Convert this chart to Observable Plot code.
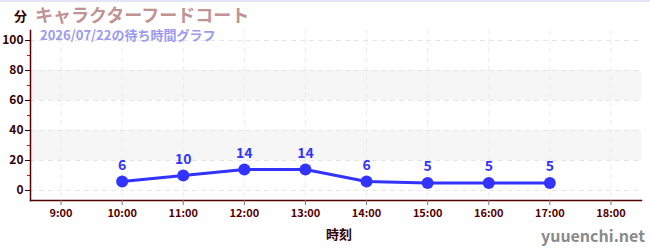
<!DOCTYPE html>
<html><head><meta charset="utf-8">
<script src="https://cdn.jsdelivr.net/npm/d3@7"></script>
<script src="https://cdn.jsdelivr.net/npm/@observablehq/plot@0.6"></script>
<style>
body{margin:0;background:#fff;font-family:"Noto Sans CJK JP","Noto Sans",sans-serif;}
#wrap{position:relative;width:650px;height:250px;border-top:2px solid #e4e4f8;box-sizing:border-box;overflow:hidden}
#wrap svg{position:absolute;left:0;top:-2px}
.t{position:absolute;white-space:nowrap;font-weight:bold;line-height:1}
</style></head><body>
<div id="wrap">
<div class="t" style="left:14px;top:7px;font-size:13px;color:#330000">分</div>
<div class="t" style="left:35px;top:2.5px;font-size:18px;color:#c09494">キャラクターフードコート</div>
<div class="t" style="left:40px;top:26px;font-size:13px;color:#9a9af0">2026/07/22の待ち時間グラフ</div>
<div class="t" style="left:326px;top:225px;font-size:13px;color:#330000">時刻</div>
<div class="t" style="left:541px;top:225px;font-size:16px;color:#8a8a8a;font-weight:600">yuuenchi.net</div>
</div>
<script>
const hours = [10, 11, 12, 13, 14, 15, 16, 17];
const waits = [6, 10, 14, 14, 6, 5, 5, 5];
const xTicks = [9, 10, 11, 12, 13, 14, 15, 16, 17, 18];
const yTicks = [0, 20, 40, 60, 80, 100];
const yMinor = [10, 30, 50, 70, 90];
const bands = [[20, 40], [60, 80]];

const data = hours.map((h, i) => ({h, w: waits[i]}));
const axisColor = "#550000";

const chart = Plot.plot({
  width: 650, height: 250,
  marginLeft: 30, marginRight: 9, marginTop: 30, marginBottom: 50,
  x: {type: "linear", domain: [8.5, 18.5]},
  y: {type: "linear", domain: [-6.7, 106.7]},
  style: {fontFamily: "'Noto Sans CJK JP','Noto Sans',sans-serif"},
  marks: [
    Plot.rectY(bands, {y1: d => d[0], y2: d => d[1], fill: "#f6f6f6"}),
    Plot.ruleY(yTicks, {stroke: "#e6e6e6", strokeDasharray: "5,4"}),
    Plot.ruleX(xTicks, {stroke: "#ececec", strokeDasharray: "5,4"}),
    Plot.frame({anchor: "left", stroke: axisColor, strokeWidth: 1.5}),
    Plot.frame({anchor: "bottom", stroke: axisColor, strokeWidth: 1.5}),
    Plot.axisY(yMinor, {tickSize: 3, stroke: "#dd0000", tickFormat: () => "", label: null}),
    Plot.axisY(yTicks, {tickSize: 5, stroke: "#330000", color: "#330000", fontSize: 12, fontWeight: "bold", label: null, tickPadding: 2}),
    Plot.axisX(xTicks, {anchor: "bottom", tickSize: 5, stroke: "#777", color: "#550000", fontSize: 11, fontWeight: "bold", label: null, tickFormat: d => d + ":00", tickPadding: 4}),
    Plot.line(data, {x: "h", y: "w", stroke: "#3333ff", strokeWidth: 3}),
    Plot.dot(data, {x: "h", y: "w", r: 6, fill: "#3333ff"}),
    Plot.text(data, {x: "h", y: "w", text: d => String(d.w), dy: -16, fill: "#3333ff", fontSize: 14, fontWeight: "bold"})
  ]
});
document.getElementById("wrap").prepend(chart);
</script>
</body></html>
